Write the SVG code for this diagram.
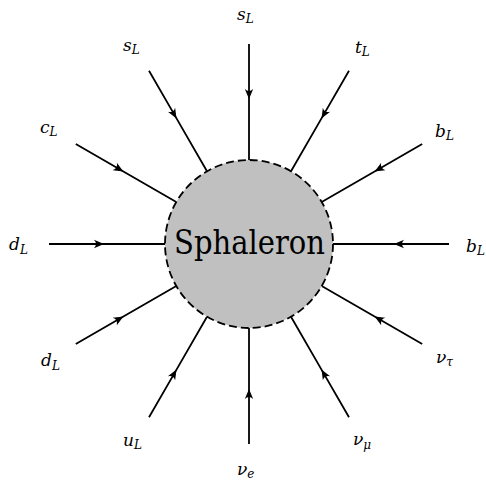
<svg xmlns="http://www.w3.org/2000/svg" width="486" height="480" viewBox="0 0 486 480">
<style>
.lbl{font-family:'DejaVu Serif',serif;font-style:italic;font-size:17px;fill:#000}
.sub{font-size:12px}
.ttl{font-family:'DejaVu Serif',serif;font-size:33px;fill:#000}
.ln{stroke:#000;stroke-width:1.8;fill:none;marker-mid:url(#arr)}
</style>
<defs>
<marker id="arr" markerUnits="userSpaceOnUse" markerWidth="14" markerHeight="12" viewBox="-12 -6 14 12" refX="0" refY="0" orient="auto" overflow="visible">
<path d="M0,0 L-10,-4.2 Q-6,0 -10,4.2 Z" fill="#000"/>
</marker>
</defs>
<rect width="486" height="480" fill="#fff"/>
<g id="connectors">
<path class="ln" d="M249,44 L249,99 L249,160"/>
<path class="ln" d="M349,70.8 L321.5,118.4 L291,171.3"/>
<path class="ln" d="M422.2,144 L374.6,171.5 L321.7,202"/>
<path class="ln" d="M449,244 L394,244 L333,244"/>
<path class="ln" d="M422.2,344 L374.6,316.5 L321.7,286"/>
<path class="ln" d="M349,417.2 L321.5,369.6 L291,316.7"/>
<path class="ln" d="M249,444 L249,389 L249,328"/>
<path class="ln" d="M149,417.2 L176.5,369.6 L207,316.7"/>
<path class="ln" d="M75.8,344 L123.4,316.5 L176.3,286"/>
<path class="ln" d="M49,244 L104,244 L165,244"/>
<path class="ln" d="M75.8,144 L123.4,171.5 L176.3,202"/>
<path class="ln" d="M149,70.8 L176.5,118.4 L207,171.3"/>
</g>
<g id="sphaleron">
<circle cx="249" cy="244" r="84" fill="#c0c0c0" stroke="#000" stroke-width="1.8" stroke-dasharray="8,4"/>
<text class="ttl" x="249.5" y="254" text-anchor="middle" textLength="151" lengthAdjust="spacingAndGlyphs">Sphaleron</text>
</g>
<g id="p-sL-top"><text class="lbl" x="237" y="20">s<tspan class="sub" dy="3">L</tspan></text></g>
<g id="p-tL"><text class="lbl" x="355" y="53">t<tspan class="sub" dy="3">L</tspan></text></g>
<g id="p-bL-upper"><text class="lbl" x="435" y="137">b<tspan class="sub" dy="3">L</tspan></text></g>
<g id="p-bL-right"><text class="lbl" x="466" y="252">b<tspan class="sub" dy="3">L</tspan></text></g>
<g id="p-nutau"><text class="lbl" x="436" y="363">ν<tspan class="sub" dy="3">τ</tspan></text></g>
<g id="p-numu"><text class="lbl" x="353" y="445">ν<tspan class="sub" dy="4">μ</tspan></text></g>
<g id="p-nue"><text class="lbl" x="237" y="475">ν<tspan class="sub" dy="3">e</tspan></text></g>
<g id="p-uL"><text class="lbl" x="123" y="446">u<tspan class="sub" dy="3">L</tspan></text></g>
<g id="p-dL-lower"><text class="lbl" x="41" y="366">d<tspan class="sub" dy="4">L</tspan></text></g>
<g id="p-dL-left"><text class="lbl" x="9" y="250">d<tspan class="sub" dy="4">L</tspan></text></g>
<g id="p-cL"><text class="lbl" x="40" y="133">c<tspan class="sub" dy="3">L</tspan></text></g>
<g id="p-sL-left"><text class="lbl" x="123" y="51">s<tspan class="sub" dy="3">L</tspan></text></g>
</svg>
